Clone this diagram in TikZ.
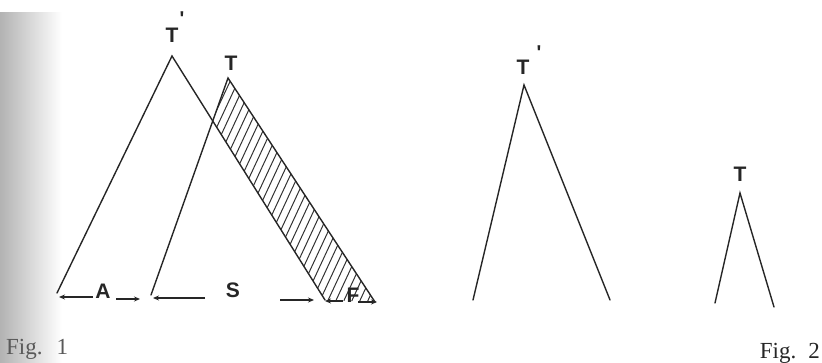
\documentclass[tikz,border=0pt]{standalone}
\usepackage{fontspec}
\setmainfont{Liberation Serif}
\newfontfamily\labfont{Liberation Sans}
\usetikzlibrary{arrows.meta}
\begin{document}
\begin{tikzpicture}[x=1pt,y=-1pt,
  edge/.style={line width=1.4pt, line cap=round, line join=miter, black!85},
  lbl/.style={font=\labfont\bfseries\fontsize{21}{21}\selectfont, inner sep=0pt, text=black!85},
  primemark/.style={font=\labfont\bfseries\fontsize{20}{20}\selectfont, inner sep=0pt, text=black!85},
  dimarrow/.style={line width=1.3pt, black!85, -{Stealth[length=6pt,width=5pt]}},
  figlbl/.style={font=\fontsize{23}{23}\selectfont, inner sep=0pt, text=black!85},
  hatch/.style={line width=1pt, black!80}]
\useasboundingbox (0,0) rectangle (822,363);
\shade[left color=black!30, right color=white] (0,13) rectangle (62,363);

% Fig. 1 triangles
\coordinate (Ta) at (172,56);
\coordinate (TaL) at (57,293);
\coordinate (TaR) at (325,300);
\coordinate (Tb) at (228,78);
\coordinate (TbL) at (151,295);
\coordinate (TbR) at (375,302);
\coordinate (X) at (212.7,121);

\begin{scope}
  \clip (Tb) -- (TbR) -- (TaR) -- (X) -- cycle;
  \foreach \c in {268,276,...,516}
    \draw[hatch] ({\c-0.466*40},40) -- ({\c-0.466*320},320);
\end{scope}

\draw[edge] (TaL) -- (Ta) -- (TaR);
\draw[edge] (TbL) -- (Tb) -- (TbR);

\node[lbl] (T1p) at (172,35) {T};
\node[primemark] (pr1) at (182,19) {'};
\node[lbl] (T1) at (231,63) {T};

% dimension labels and arrows
\node[lbl] (A) at (103,291) {A};
\coordinate (a1s) at (93,297);
\coordinate (a1) at (59,297);
\coordinate (a2s) at (116,299);
\coordinate (a2) at (140,299);
\draw[dimarrow] (a1s) -- (a1);
\draw[dimarrow] (a2s) -- (a2);

\node[lbl] (S) at (233,290) {S};
\coordinate (s1s) at (205,298);
\coordinate (s1) at (153,298);
\coordinate (s2s) at (280,300);
\coordinate (s2) at (314,300);
\draw[dimarrow] (s1s) -- (s1);
\draw[dimarrow] (s2s) -- (s2);

\node[lbl] (F) at (353,295) {F};
\coordinate (f1s) at (343,301);
\coordinate (f1) at (325,301);
\coordinate (f2s) at (358,302);
\coordinate (f2) at (377,302);
\draw[dimarrow] (f1s) -- (f1);
\draw[dimarrow] (f2s) -- (f2);

% Fig. 2 triangles
\coordinate (Tc) at (524,85);
\coordinate (TcL) at (473,300);
\coordinate (TcR) at (610,300);
\coordinate (Td) at (740,193);
\coordinate (TdL) at (715,303);
\coordinate (TdR) at (774,307);
\draw[edge] (TcL) -- (Tc) -- (TcR);
\draw[edge] (TdL) -- (Td) -- (TdR);

\node[lbl] (T2p) at (523,67) {T};
\node[primemark] (pr2) at (539,53) {'};
\node[lbl] (T2) at (740,174) {T};

% captions
\node[figlbl, anchor=base west, text=black!65] (fig1) at (6,355) {Fig.\hspace{14pt}1};
\node[figlbl, anchor=base east] (fig2) at (820,358) {Fig.\hspace{12pt}2};
\end{tikzpicture}
\end{document}
